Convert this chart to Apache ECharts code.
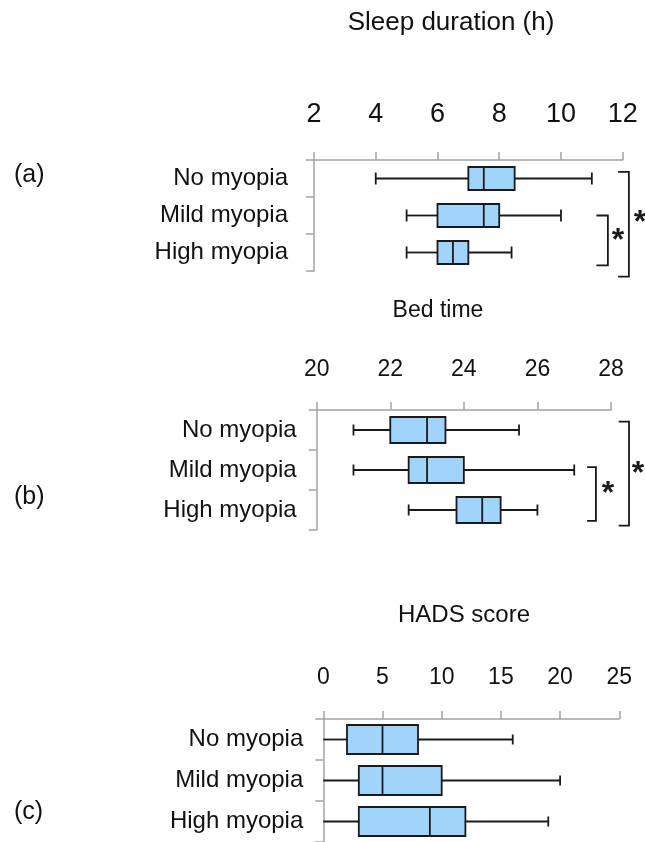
<!DOCTYPE html>
<html>
<head>
<meta charset="utf-8">
<script src="https://cdn.jsdelivr.net/npm/echarts@6/dist/echarts.min.js"></script>
<style>
  html, body { margin: 0; padding: 0; background: #ffffff; }
  #chart { width: 645px; height: 842px; }
</style>
</head>
<body>
<div id="chart"></div>
<script>
// Myopia groups shown on every panel, top to bottom
const groups = ['No myopia', 'Mild myopia', 'High myopia'];

// Box statistics per group: [min, Q1, median, Q3, max]
const sleepDuration = [[4, 7, 7.5, 8.5, 11], [5, 6, 7.5, 8, 10], [5, 6, 6.5, 7, 8.4]];
const bedTime = [[21, 22, 23, 23.5, 25.5], [21, 22.5, 23, 24, 27], [22.5, 23.8, 24.5, 25, 26]];
const hadsScore = [[0, 2, 5, 8, 16], [0, 3, 5, 10, 20], [0, 3, 9, 12, 19]];

// Axis tick labels
const sleepTicks = [2, 4, 6, 8, 10, 12];
const bedTicks = [20, 22, 24, 26, 28];
const hadsTicks = [0, 5, 10, 15, 20, 25];

// Significant pairwise differences (group indices)
const sleepSig = [[1, 2], [0, 2]];
const bedSig = [[1, 2], [0, 2]];

const FONT = "'Liberation Sans', Arial, Helvetica, sans-serif";
const INK = '#1a1a1a';
const AXIS_GREY = '#a3a3a3';
const BOX_FILL = '#a0d4fb';
const STROKE = 1.8;

// Layout of each panel
const panels = [
  {
    tag: '(a)', tagY: 177, title: 'Sleep duration (h)', titleX: 451, titleTop: 10, titleSize: 26,
    stats: sleepDuration, ticks: sleepTicks, sig: sleepSig,
    grid: { left: 314, top: 160, width: 308.7, height: 111 },
    tickSize: 27, tickMargin: 32, catMargin: 26, boxHalf: 11.5, capHalf: 6,
    // bracket: vertical line x, arm end x (axis units); top/bottom offsets and star row in bands
    brackets: [
      { x: 11.52, arm: 11.15, top: 0, bottom: 0.35, starX: 11.85, starRow: 1.55 },
      { x: 12.2, arm: 11.85, top: -0.18, bottom: 0.65, starX: 12.56, starRow: 1.07 }
    ]
  },
  {
    tag: '(b)', tagY: 499, title: 'Bed time', titleX: 438, titleTop: 299, titleSize: 23,
    stats: bedTime, ticks: bedTicks, sig: bedSig,
    grid: { left: 316.7, top: 410, width: 294.3, height: 120 },
    tickSize: 23, tickMargin: 29, catMargin: 20, boxHalf: 13, capHalf: 5.5,
    brackets: [
      { x: 27.59, arm: 27.35, top: -0.07, bottom: 0.27, starX: 27.92, starRow: 1.49 },
      { x: 28.49, arm: 28.21, top: -0.21, bottom: 0.39, starX: 28.73, starRow: 0.98 }
    ]
  },
  {
    tag: '(c)', tagY: 814, title: 'HADS score', titleX: 464, titleTop: 603, titleSize: 24,
    stats: hadsScore, ticks: hadsTicks, sig: [],
    grid: { left: 323.3, top: 719, width: 296, height: 126 },
    tickSize: 23, tickMargin: 30, catMargin: 20, boxHalf: 14.5, capHalf: 5,
    brackets: []
  }
];

function boxRenderer(boxHalf, capHalf, axisMin) {
  return function (params, api) {
    const cat = api.value(0);
    const pts = [1, 2, 3, 4, 5].map(function (d) { return api.coord([api.value(d), cat]); });
    const y = pts[0][1];
    const line = { stroke: INK, lineWidth: STROKE };
    const children = [
      { type: 'line', shape: { x1: pts[0][0], y1: y, x2: pts[1][0], y2: y }, style: line },
      { type: 'line', shape: { x1: pts[3][0], y1: y, x2: pts[4][0], y2: y }, style: line },
      { type: 'line', shape: { x1: pts[4][0], y1: y - capHalf, x2: pts[4][0], y2: y + capHalf }, style: line },
      { type: 'rect', shape: { x: pts[1][0], y: y - boxHalf, width: pts[3][0] - pts[1][0], height: boxHalf * 2 },
        style: { fill: BOX_FILL, stroke: INK, lineWidth: STROKE } },
      { type: 'line', shape: { x1: pts[2][0], y1: y - boxHalf, x2: pts[2][0], y2: y + boxHalf }, style: line }
    ];
    // a lower whisker that reaches the axis minimum ends on the axis line itself
    if (api.value(1) > axisMin) {
      children.push({ type: 'line', shape: { x1: pts[0][0], y1: y - capHalf, x2: pts[0][0], y2: y + capHalf }, style: line });
    }
    return { type: 'group', children: children };
  };
}

// Category coordinates snap to whole rows, so fractional positions are
// built from a row centre plus a share of the band height.
function rowY(api, row) {
  const base = Math.floor(row);
  const band = api.size([0, 1])[1];
  return api.coord([0, base])[1] + (row - base) * band;
}

function bracketRenderer(layout) {
  return function (params, api) {
    const b = layout[params.dataIndex];
    const from = api.value(0), to = api.value(1);
    const band = api.size([0, 1])[1];
    const vx = api.coord([b.x, from])[0];
    const armX = api.coord([b.arm, from])[0];
    const yTop = api.coord([b.x, from])[1] + b.top * band;
    const yBot = api.coord([b.x, to])[1] + b.bottom * band;
    const sx = api.coord([b.starX, from])[0];
    const sy = rowY(api, b.starRow);
    return {
      type: 'group',
      children: [
        { type: 'polyline', shape: { points: [[armX, yTop], [vx, yTop], [vx, yBot], [armX, yBot]] },
          style: { stroke: INK, lineWidth: STROKE, fill: null } },
        { type: 'text', x: sx, y: sy + 5,
          style: { text: '*', font: 'bold 32px ' + FONT, fill: INK, align: 'center', verticalAlign: 'middle' } }
      ]
    };
  };
}

const option = {
  backgroundColor: '#ffffff',
  animation: false,
  title: panels.map(function (p) {
    return {
      text: p.title, left: p.titleX, top: p.titleTop, textAlign: 'center', padding: 0,
      textStyle: { fontFamily: FONT, fontSize: p.titleSize, fontWeight: 'normal', color: '#111' }
    };
  }),
  grid: panels.map(function (p) { return Object.assign({ containLabel: false }, p.grid); }),
  xAxis: panels.map(function (p, i) {
    return {
      gridIndex: i, type: 'value', position: 'top',
      min: p.ticks[0], max: p.ticks[p.ticks.length - 1], interval: p.ticks[1] - p.ticks[0],
      axisLine: { show: true, lineStyle: { color: AXIS_GREY, width: 1.5 } },
      axisTick: { show: true, length: 8, lineStyle: { color: AXIS_GREY, width: 1.5 } },
      splitLine: { show: false },
      axisLabel: { fontFamily: FONT, fontSize: p.tickSize, color: '#111', margin: p.tickMargin }
    };
  }),
  yAxis: panels.map(function (p, i) {
    return {
      gridIndex: i, type: 'category', data: groups, inverse: true,
      axisLine: { show: true, lineStyle: { color: AXIS_GREY, width: 1.5 } },
      axisTick: { show: true, length: 8, interval: 0, alignWithLabel: false, lineStyle: { color: AXIS_GREY, width: 1.5 } },
      splitLine: { show: false },
      axisLabel: { fontFamily: FONT, fontSize: 24, color: '#111', margin: p.catMargin, interval: 0 }
    };
  }),
  series: [],
  graphic: panels.map(function (p) {
    return {
      type: 'text', left: 14, top: p.tagY - 14,
      style: { text: p.tag, font: '25px ' + FONT, fill: '#111' }
    };
  })
};

panels.forEach(function (p, i) {
  option.series.push({
    type: 'custom', xAxisIndex: i, yAxisIndex: i,
    renderItem: boxRenderer(p.boxHalf, p.capHalf, p.ticks[0]),
    encode: { x: [1, 2, 3, 4, 5], y: 0 },
    data: p.stats.map(function (s, g) { return [g].concat(s); }),
    z: 3
  });
  if (p.sig.length) {
    option.series.push({
      type: 'custom', xAxisIndex: i, yAxisIndex: i, clip: false,
      renderItem: bracketRenderer(p.brackets),
      encode: { y: [0, 1] },
      data: p.sig.map(function (pair) { return pair.slice(); }),
      z: 3
    });
  }
});

const chart = echarts.init(document.getElementById('chart'), null, { renderer: 'canvas' });
chart.setOption(option);
</script>
</body>
</html>
